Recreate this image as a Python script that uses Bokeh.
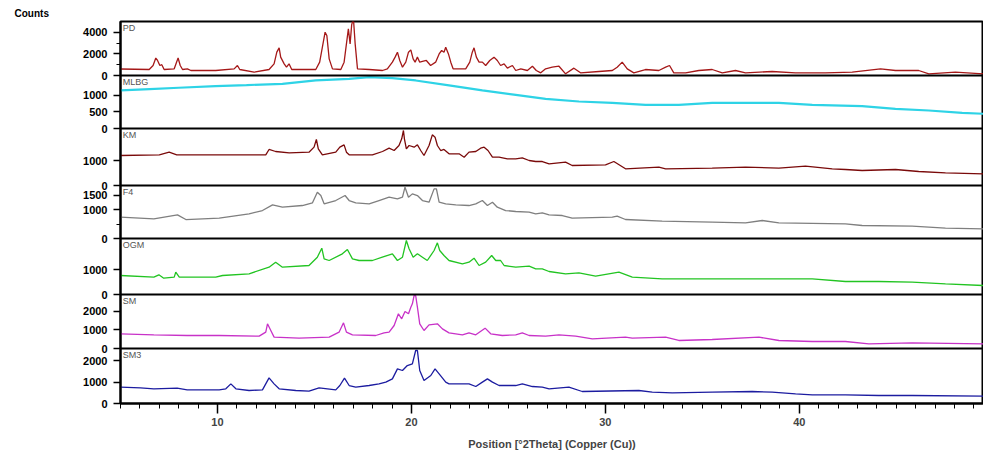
from bokeh.plotting import figure
from bokeh.models import Range1d, FixedTicker, Span, Label, Title
from bokeh.embed import file_html
from bokeh.resources import INLINE

# ---------------- data ----------------
names = ["PD", "MLBG", "KM", "F4", "OGM", "SM", "SM3"]
colors = ["#a51818", "#2ed3e6", "#7a0a0a", "#7f7f7f", "#22c422", "#c832c8", "#1c1ca0"]
y_max = [5000, 1600, 2300, 1830, 2240, 2900, 2580]
y_ticks = [[0, 2000, 4000], [0, 500, 1000], [0, 1000], [0, 1000, 1500], [0, 1000], [0, 1000, 2000], [0, 1000, 2000]]
y_minor = [[1000, 3000], [], [], [500], [], [], []]
x_ticks = [10, 20, 30, 40]

pd_x = [5.0, 6.48, 6.68, 6.82, 6.91, 7.03, 7.13, 7.25, 7.77, 7.89, 7.97, 8.08, 8.20, 8.45, 8.63, 9.91, 10.86, 11.03, 11.15, 11.89,
        12.66, 12.92, 13.06, 13.18, 13.26, 13.44, 13.56, 13.69, 13.83, 15.07, 15.27, 15.41, 15.55, 15.64, 15.76, 15.93, 16.36,
        16.53, 16.65, 16.75, 16.84, 16.92, 17.01, 17.10, 17.22, 17.82, 18.51, 18.76, 19.02, 19.16, 19.28, 19.40, 19.54, 19.71,
        19.85, 19.97, 20.09, 20.19, 20.31, 20.43, 20.57, 20.77, 20.99, 21.25, 21.43, 21.56, 21.68, 21.77, 21.91, 22.03, 22.15,
        22.80, 23.01, 23.14, 23.23, 23.35, 23.49, 23.66, 23.83, 24.04, 24.26, 24.43, 24.60, 24.78, 24.95, 25.21, 25.38, 25.64,
        25.98, 26.24, 26.44, 26.67, 26.92, 27.26, 27.61, 27.95, 28.38, 28.72, 29.67, 30.36, 30.61, 30.87, 31.13, 31.47, 32.07,
        32.76, 33.11, 33.31, 33.53, 34.14, 34.82, 35.51, 36.03, 36.71, 37.23, 38.6, 39.8, 41.35, 42.73, 44.19, 44.96, 46.16,
        46.68, 48.05, 49.5]
pd_y = [600, 555, 926, 1620, 1390, 926, 1000, 555, 617, 1235, 1620, 926, 555, 617, 463, 463, 617, 926, 555, 310,
        555, 1080, 2160, 2560, 1700, 1080, 770, 1080, 555, 555, 1235, 2620, 4010, 3700, 1543, 617, 555,
        1235, 2930, 4320, 2930, 4690, 5300, 2930, 617, 555, 463, 617, 1235, 1700, 2160, 1390, 770, 1235,
        2160, 2375, 1543, 1235, 1700, 1235, 1300, 1390, 926, 1235, 2000, 2315, 2160, 2620, 2000, 1235, 617,
        617, 1235, 2160, 2560, 1700, 1235, 1235, 926, 1390, 1700, 1390, 926, 1080, 680, 926, 463, 617,
        463, 860, 463, 247, 617, 770, 860, 154, 680, 247, 370, 463, 770, 1235, 617, 247, 555,
        463, 770, 926, 247, 247, 463, 555, 247, 463, 247, 370, 247, 247, 310, 617, 463, 463,
        154, 310, 154]

mlbg_x = [5.0, 6.5, 8.0, 9.9, 11.5, 13.35, 15.07, 16.79, 17.82, 19.02, 20.22, 21.94, 23.66, 25.38, 26.92, 28.64, 30.36,
          32.07, 33.79, 35.51, 37.23, 38.95, 40.67, 43.24, 44.96, 46.68, 48.4, 49.5]
mlbg_y = [1150, 1190, 1230, 1280, 1310, 1350, 1450, 1500, 1550, 1520, 1450, 1300, 1150, 1017, 897, 815, 776,
          716, 716, 776, 776, 776, 716, 673, 595, 544, 474, 444]

km_x = [5.0, 7.0, 7.51, 7.9, 12.49, 12.66, 13.0, 13.7, 14.72, 14.98, 15.10, 15.2, 15.41, 16.1, 16.31, 16.53, 16.65, 16.79,
        17.99, 18.51, 18.85, 19.11, 19.36, 19.5, 19.59, 19.64, 19.74, 19.88, 20.14, 20.31, 20.48, 20.65, 20.91, 21.08,
        21.22, 21.34, 21.51, 21.68, 21.94, 22.46, 22.72, 22.97, 23.32, 23.57, 23.75, 23.95, 24.18, 24.52, 24.95, 25.38,
        25.72, 26.07, 26.41, 26.75, 27.1, 27.95, 28.29, 30.01, 30.44, 31.04, 32.76, 33.11, 35.51, 37.23, 38.95, 40.32,
        41.7, 42.38, 43.24, 44.96, 46.16, 47.54, 49.5]
km_y = [1210, 1238, 1345, 1238, 1238, 1453, 1372, 1319, 1345, 1547, 1856, 1480, 1238, 1345, 1547, 1641, 1345, 1238,
        1238, 1372, 1506, 1412, 1614, 1883, 2219, 1883, 1480, 1614, 1547, 1641, 1412, 1210, 1614, 2044,
        1950, 1614, 1412, 1453, 1278, 1278, 1143, 1345, 1372, 1506, 1547, 1412, 1143, 1143, 1076, 1076,
        1116, 1009, 968, 968, 875, 942, 807, 834, 968, 673, 740, 673, 700, 740, 700, 780,
        673, 646, 605, 646, 565, 511, 471]

f4_x = [5.0, 6.72, 7.94, 8.37, 10.09, 11.63, 12.32, 12.84, 13.35, 14.38, 14.9, 15.15, 15.33, 15.5, 16.1, 16.58, 16.79,
        17.13, 17.82, 18.33, 18.85, 19.28, 19.54, 19.67, 19.85, 20.05, 20.31, 20.57, 20.91, 21.17, 21.29, 21.43, 21.77,
        22.29, 22.97, 23.32, 23.66, 23.92, 24.18, 24.43, 24.86, 25.38, 26.07, 26.41, 26.75, 27.1, 27.78, 28.29, 30.36,
        30.61, 31.04, 32.93, 35.51, 37.23, 38.09, 38.95, 42.38, 43.24, 45.82, 47.54, 49.5]
f4_y = [736, 678, 817, 655, 702, 851, 966, 1161, 1081, 1139, 1231, 1599, 1484, 1196, 1311, 1484, 1311,
        1231, 1196, 1311, 1426, 1369, 1426, 1771, 1426, 1541, 1484, 1311, 1254, 1714, 1714, 1254, 1196,
        1161, 1139, 1196, 1311, 1139, 1254, 1081, 966, 932, 909, 851, 886, 817, 794, 702, 736,
        771, 656, 598, 563, 541, 621, 541, 506, 449, 426, 357, 334]

ogm_x = [5.0, 6.72, 6.98, 7.23, 7.77, 7.85, 8.03, 9.91, 10.26, 11.63, 12.66, 13.0, 13.35, 14.72, 15.15, 15.38, 15.5,
         15.76, 16.44, 16.7, 16.96, 17.3, 17.99, 18.5, 19.02, 19.28, 19.54, 19.74, 19.88, 20.09, 20.31, 20.57, 20.82,
         21.17, 21.34, 21.46, 21.68, 21.94, 22.63, 22.97, 23.23, 23.49, 23.83, 24.14, 24.35, 24.6, 24.78, 25.38, 26.07,
         26.41, 26.75, 27.1, 27.95, 28.64, 29.5, 30.7, 31.39, 32.93, 37.23, 40.67, 42.38, 44.1, 45.82, 47.54, 49.5]
ogm_y = [760, 693, 787, 653, 693, 893, 693, 693, 760, 827, 1093, 1293, 1093, 1160, 1493, 1853, 1427,
         1360, 1627, 1800, 1427, 1360, 1360, 1493, 1627, 1360, 1493, 2160, 1827, 1493, 1627, 1493, 1360,
         1760, 2067, 1760, 1560, 1360, 1227, 1293, 1453, 1160, 1293, 1560, 1360, 1360, 1160, 1093, 1133,
         1027, 1027, 920, 827, 867, 733, 893, 693, 627, 627, 627, 520, 520, 493, 427, 360]

sm_x = [5.0, 6.72, 8.44, 10.09, 12.15, 12.49, 12.58, 12.75, 12.92, 14.21, 15.76, 16.27, 16.5, 16.65, 16.96, 18.16,
        18.59, 18.85, 19.11, 19.33, 19.5, 19.67, 19.85, 19.97, 20.05, 20.14, 20.22, 20.31, 20.43, 20.65, 20.91, 21.34,
        21.6, 21.94, 22.63, 22.97, 23.32, 23.8, 24.09, 24.69, 25.38, 25.72, 26.07, 26.92, 27.61, 28.47, 29.33, 31.04,
        31.39, 33.11, 33.79, 35.51, 37.92, 38.95, 40.67, 42.38, 43.59, 45.82, 49.5]
sm_y = [788, 734, 698, 698, 662, 877, 1325, 967, 609, 555, 609, 877, 1379, 877, 734, 698,
        842, 877, 1235, 1862, 1593, 1987, 1862, 2220, 2399, 2846, 2846, 2220, 1325, 967, 1271, 1325,
        1056, 842, 734, 842, 734, 1092, 788, 698, 734, 842, 698, 662, 734, 662, 520, 609,
        555, 609, 430, 483, 609, 430, 376, 376, 251, 304, 251]

sm3_x = [5.0, 6.03, 6.72, 7.92, 8.44, 10.09, 10.43, 10.69, 10.95, 11.63, 12.32, 12.66, 12.92, 13.18, 14.04, 14.72,
         15.24, 16.1, 16.31, 16.55, 16.79, 17.13, 17.82, 18.33, 18.68, 19.02, 19.28, 19.54, 19.79, 20.05, 20.22, 20.31,
         20.43, 20.65, 21.0, 21.22, 21.43, 21.77, 21.94, 22.63, 22.97, 23.32, 23.66, 23.92, 24.18, 24.52, 25.38, 25.72,
         26.24, 26.75, 27.1, 28.12, 28.81, 31.73, 32.42, 33.45, 35.51, 37.57, 38.6, 39.81, 40.67, 42.38, 44.1, 45.82, 49.5]
sm3_y = [766, 735, 688, 719, 641, 641, 688, 922, 688, 610, 641, 1204, 922, 688, 610, 578,
         735, 641, 844, 1188, 844, 766, 844, 922, 1001, 1157, 1626, 1548, 1782, 1860, 2486, 2486,
         1548, 1079, 1313, 1626, 1391, 1001, 922, 922, 922, 797, 1001, 1157, 1001, 844, 844, 922,
         797, 766, 688, 766, 563, 610, 532, 500, 532, 563, 532, 453, 407, 407, 375, 375, 344]

series_x = [pd_x, mlbg_x, km_x, f4_x, ogm_x, sm_x, sm3_x]
series_y = [pd_y, mlbg_y, km_y, f4_y, ogm_y, sm_y, sm3_y]

# ---------------- layout (pixels per panel, top to bottom) ----------------
panel_px = [54, 53, 57, 53, 56, 54, 55]
total = sum(panel_px)
FONT = "Liberation Sans"

title = Title(text="Counts", align="left", offset=-106, standoff=5,
              text_font=FONT, text_font_style="bold", text_font_size="10px", text_color="black")

p = figure(frame_width=863, frame_height=total, x_range=Range1d(5.0, 49.5), y_range=Range1d(0, total),
           output_backend="svg", toolbar_location=None, title=title,
           min_border_left=120, min_border_right=0, min_border_top=21, min_border_bottom=40)
p.xgrid.visible = False
p.ygrid.visible = False
p.outline_line_color = "black"
p.outline_line_width = 2
p.background_fill_color = "white"
p.border_fill_color = "white"

tick_pos, minor_pos, overrides = [], [], {}
top = total
for i, name in enumerate(names):
    h = panel_px[i]
    bottom = top - h
    scale = h / y_max[i]
    p.extra_y_ranges[name] = Range1d(-bottom / scale, (total - bottom) / scale)
    p.line(series_x[i], series_y[i], y_range_name=name, line_color=colors[i],
           line_width=2.2 if name == "MLBG" else 1.3)
    for v in y_ticks[i]:
        pos = round(bottom + v * scale, 3)
        tick_pos.append(pos)
        overrides[pos] = str(v)
    for v in y_minor[i]:
        minor_pos.append(round(bottom + v * scale, 3))
    if bottom > 0:
        p.add_layout(Span(location=bottom, dimension="width", line_color="black", line_width=2))
    p.add_layout(Label(x=5.12, y=top - 1.5, text=name, text_baseline="top", text_align="left",
                       text_font=FONT, text_font_size="9px", text_color="#555555"))
    top = bottom

p.yaxis.ticker = FixedTicker(ticks=tick_pos, minor_ticks=minor_pos)
p.yaxis.major_label_overrides = overrides
p.yaxis.axis_line_width = 2
p.yaxis.major_tick_out = 7
p.yaxis.major_tick_in = 0
p.yaxis.minor_tick_out = 4
p.yaxis.minor_tick_in = 0
p.yaxis.major_tick_line_width = 1.5
p.yaxis.major_label_standoff = 6
p.yaxis.major_label_text_font = FONT
p.yaxis.major_label_text_font_style = "bold"
p.yaxis.major_label_text_font_size = "11px"
p.yaxis.major_label_text_color = "black"

p.xaxis.ticker = FixedTicker(ticks=x_ticks, minor_ticks=list(range(5, 50)))
p.xaxis.axis_label = "Position [°2Theta] (Copper (Cu))"
p.xaxis.axis_line_width = 2
p.xaxis.major_tick_out = 10
p.xaxis.major_tick_in = 0
p.xaxis.minor_tick_out = 5
p.xaxis.minor_tick_in = 0
p.xaxis.major_tick_line_width = 1.5
p.xaxis.major_label_standoff = 4
p.xaxis.axis_label_standoff = 9
p.xaxis.major_label_text_font = FONT
p.xaxis.major_label_text_font_style = "bold"
p.xaxis.major_label_text_font_size = "11px"
p.xaxis.axis_label_text_font = FONT
p.xaxis.axis_label_text_font_style = "bold"
p.xaxis.axis_label_text_font_size = "11px"

open("out.html", "w").write(file_html(p, INLINE))
